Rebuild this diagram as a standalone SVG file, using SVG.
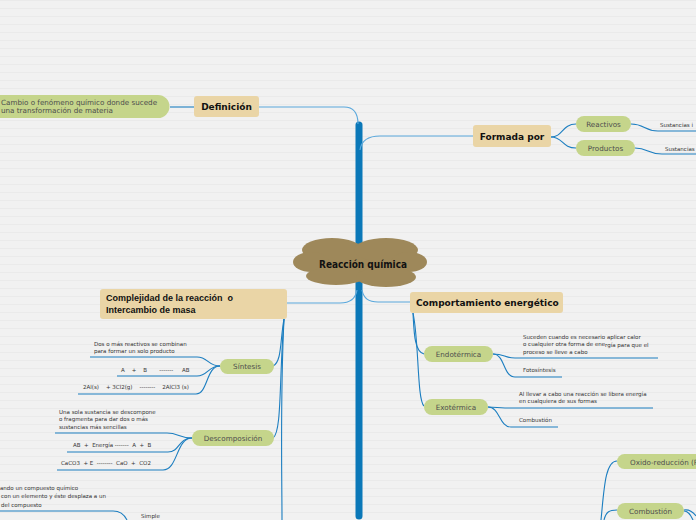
<svg xmlns="http://www.w3.org/2000/svg" width="696" height="520" viewBox="0 0 696 520">
<style>
.bg{fill:url(#stripes)}
.main{fill:#ead5a6}
.pill{fill:#c5d58b}
.mt{font-family:"DejaVu Sans",Verdana,sans-serif;font-weight:bold;font-size:9px;fill:#111}
.pt{font-family:"DejaVu Sans",Verdana,sans-serif;font-size:7.2px;fill:#4d4d4d}
.st{font-family:"DejaVu Sans",Verdana,sans-serif;font-size:5.5px;fill:#333}
.c{fill:none;stroke:#1c7ec0;stroke-width:1.1}
.cm{fill:none;stroke:#5aa8dc;stroke-width:1.2}
.trunk{fill:none;stroke:#0b78b8;stroke-width:7;stroke-linecap:round}
</style>
<defs>
<pattern id="stripes" width="8" height="8" patternUnits="userSpaceOnUse">
<rect width="8" height="8" fill="#f1f1f1"/>
<rect y="0" width="8" height="1" fill="#eaeaea"/>
</pattern>
</defs>
<rect class="bg" x="0" y="0" width="696" height="520"/>

<g id="connectors">
<path class="trunk" d="M359,125 L359,516"/>
<path class="cm" d="M259,107 L344,107 Q358,107 358,124"/>
<path class="cm" d="M360,150 Q362,136 380,136 L473,136"/>
<path class="cm" d="M357,290 Q355,303 340,303 L287,303"/>
<path class="cm" d="M362,290 Q364,302 378,302 L410,302"/>
<path class="c" d="M170,107 L194,107"/>
<path class="c" d="M551,137 C563,137 562,124 576,124"/>
<path class="c" d="M551,137 C563,137 562,148 576,148"/>
<path class="c" d="M631,124 C645,124 644,131 658,131 L696,131"/>
<path class="c" d="M635,148 C648,148 648,154 662,154 L696,154"/>
<path class="c" d="M284,319 C280,340 282,362 273,366"/>
<path class="c" d="M284,319 C279,380 282,432 273,438"/>
<path class="c" d="M284,319 C280,400 282,480 282,520"/>
<path class="c" d="M220,366 C208,366 208,357 197,357 L90,357"/>
<path class="c" d="M220,366 C208,366 208,376 197,376 L117,376"/>
<path class="c" d="M220,366 C206,366 208,394 196,394 L78,394"/>
<path class="c" d="M192,438 C180,438 178,433 167,433 L55,433"/>
<path class="c" d="M192,438 C178,438 180,452 168,452 L67,452"/>
<path class="c" d="M192,438 C176,438 178,470 163,470 L57,470"/>
<path class="c" d="M0,511 L113,511 C120,511 124,514 127,520"/>
<path class="c" d="M413,313 C414,330 414,352 424,354"/>
<path class="c" d="M413,313 C419,340 417,400 424,406"/>
<path class="c" d="M493,354 C505,354 504,358 515,358 L658,358"/>
<path class="c" d="M493,354 C505,354 503,377 515,377 L562,377"/>
<path class="c" d="M488,407 C496,407 498,408 505,408 L653,408"/>
<path class="c" d="M488,407 C500,407 499,427 511,427 L558,427"/>
<path class="c" d="M601,520 C604,490 605,461 617,461"/>
<path class="c" d="M604,520 C606,512 609,510 617,510"/>
<path class="c" d="M684,510 C690,509 693,512 696,516"/>
<path class="c" d="M684,511 C689,511 691,516 693,520"/>
</g>

<g id="root">
<g fill="#9e885a">
<ellipse cx="360" cy="263" rx="56" ry="17"/>
<ellipse cx="332" cy="250" rx="30" ry="12"/>
<ellipse cx="386" cy="250" rx="32" ry="12"/>
<ellipse cx="311" cy="262" rx="18" ry="10"/>
<ellipse cx="409" cy="262" rx="18" ry="10"/>
<ellipse cx="336" cy="276" rx="30" ry="9"/>
<ellipse cx="386" cy="277" rx="30" ry="10"/>
</g>
<text x="363" y="268" text-anchor="middle" font-family="'DejaVu Sans Condensed','DejaVu Sans',sans-serif" font-weight="bold" font-size="10" fill="#111" textLength="88" lengthAdjust="spacingAndGlyphs">Reacción química</text>
</g>

<g id="definicion">
<rect class="main" x="194" y="96" width="65" height="21" rx="3"/>
<text class="mt" x="226.5" y="110" text-anchor="middle">Definición</text>
</g>
<g id="def-text">
<path class="pill" d="M-5,95 L158,95 A11.5,11.5 0 0 1 158,118 L-5,118 Z"/>
<text class="pt" font-size="6.8" x="1" y="104.5">Cambio o fenómeno químico donde sucede</text>
<text class="pt" font-size="6.8" x="1" y="113">una transformación de materia</text>
</g>

<g id="formada">
<rect class="main" x="473" y="125" width="78" height="22" rx="3"/>
<text class="mt" x="512" y="139.5" text-anchor="middle">Formada por</text>
</g>
<g id="reactivos">
<rect class="pill" x="576" y="116" width="55" height="16" rx="8"/>
<text class="pt" x="603.5" y="126.5" text-anchor="middle">Reactivos</text>
</g>
<g id="productos">
<rect class="pill" x="576" y="140" width="59" height="16" rx="8"/>
<text class="pt" x="605.5" y="150.5" text-anchor="middle">Productos</text>
</g>
<g id="react-text"><text class="st" x="660" y="126.5">Sustancias i</text></g>
<g id="prod-text"><text class="st" x="665" y="150.5">Sustancias</text></g>

<g id="complejidad">
<rect class="main" x="100" y="289" width="187" height="30" rx="3"/>
<text x="106" y="301" font-family="'Liberation Sans',Arial,sans-serif" font-weight="bold" font-size="9" fill="#111" xml:space="preserve">Complejidad de la reacción  o</text>
<text x="106" y="313" font-family="'Liberation Sans',Arial,sans-serif" font-weight="bold" font-size="9" fill="#111">Intercambio de masa</text>
</g>

<g id="sintesis">
<rect class="pill" x="220" y="359" width="54" height="15" rx="7.5"/>
<text class="pt" x="247" y="369" text-anchor="middle">Síntesis</text>
</g>
<g id="sint-1">
<text class="st" x="94" y="346">Dos o más reactivos se combinan</text>
<text class="st" x="94" y="353">para formar un solo producto</text>
</g>
<g id="sint-2"><text class="st" x="121" y="372" xml:space="preserve">A    +    B       -------     AB</text></g>
<g id="sint-3"><text class="st" x="83" y="389" xml:space="preserve">2Al(s)    + 3Cl2(g)    --------    2AlCl3 (s)</text></g>

<g id="descomposicion">
<rect class="pill" x="192" y="430" width="82" height="16" rx="8"/>
<text class="pt" x="233" y="440.5" text-anchor="middle">Descomposición</text>
</g>
<g id="desc-1">
<text class="st" x="59" y="414">Una sola sustancia se descompone</text>
<text class="st" x="59" y="421">o fragmenta para dar dos o más</text>
<text class="st" x="59" y="429">sustancias más sencillas</text>
</g>
<g id="desc-2"><text class="st" x="73" y="447" xml:space="preserve">AB  +  Energía -------  A  +  B</text></g>
<g id="desc-3"><text class="st" x="61" y="465" xml:space="preserve">CaCO3  + E  --------  CaO  +  CO2</text></g>

<g id="desplazamiento-text">
<text class="st" x="0" y="490">ando un compuesto químico</text>
<text class="st" x="1" y="498">con un elemento y éste desplaza a un</text>
<text class="st" x="1" y="507">del compuesto</text>
</g>
<g id="simple"><text class="st" x="141" y="518">Simple</text></g>

<g id="comportamiento">
<rect class="main" x="410" y="292" width="153" height="21" rx="3"/>
<text class="mt" x="416" y="305.5">Comportamiento energético</text>
</g>
<g id="endotermica">
<rect class="pill" x="424" y="346" width="69" height="16" rx="8"/>
<text class="pt" x="458.5" y="356.5" text-anchor="middle">Endotérmica</text>
</g>
<g id="endo-1">
<text class="st" x="523" y="339">Suceden cuando es necesario aplicar calor</text>
<text class="st" x="523" y="346">o cualquier otra forma de ene</text>
<text class="st" x="605" y="347">rgía para que el</text>
<text class="st" x="523" y="354">proceso se lleve a cabo</text>
</g>
<g id="endo-2"><text class="st" x="523" y="372">Fotosíntesis</text></g>
<g id="exotermica">
<rect class="pill" x="424" y="399" width="64" height="16" rx="8"/>
<text class="pt" x="456" y="409.5" text-anchor="middle">Exotérmica</text>
</g>
<g id="exo-1">
<text class="st" x="519" y="396">Al llevar a cabo una reacción se libera energía</text>
<text class="st" x="519" y="403">en cualquiera de sus formas</text>
</g>
<g id="exo-2"><text class="st" x="519" y="422">Combustión</text></g>

<g id="oxido">
<rect class="pill" x="617" y="454" width="95" height="15" rx="7.5"/>
<text class="pt" x="630" y="464.5">Oxido-reducción (R</text>
</g>
<g id="combustion">
<rect class="pill" x="617" y="503" width="67" height="16" rx="8"/>
<text class="pt" x="650.5" y="513.5" text-anchor="middle">Combustión</text>
</g>
</svg>
